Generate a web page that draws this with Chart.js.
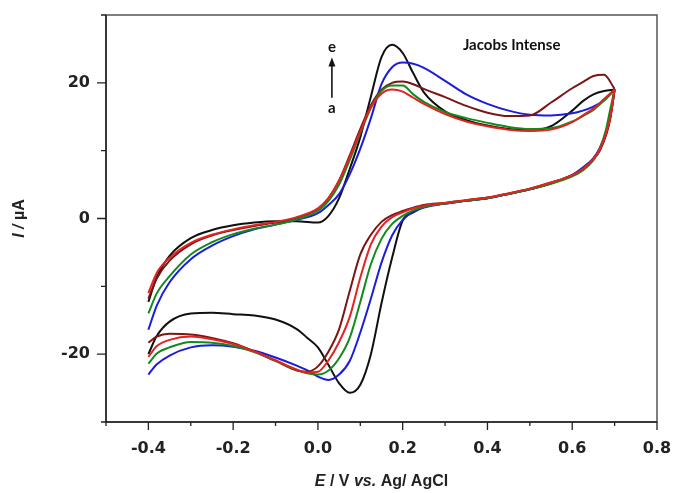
<!DOCTYPE html>
<html>
<head>
<meta charset="utf-8">
<script src="https://cdn.jsdelivr.net/npm/chart.js@4.4.1/dist/chart.umd.min.js"></script>
<style>
  html, body { margin: 0; padding: 0; background: #fff; }
  canvas { display: block; }
</style>
</head>
<body>
<canvas id="cv-chart" width="674" height="493"></canvas>
<script>
// potential grids (V vs Ag/AgCl) for the forward and the reverse sweep
const potentialFwd = [-0.4, -0.38, -0.35, -0.3, -0.25, -0.2, -0.15, -0.1, -0.05, 0, 0.025, 0.05, 0.075, 0.1, 0.125, 0.15, 0.175, 0.2, 0.225, 0.25, 0.3, 0.35, 0.4, 0.45, 0.5, 0.55, 0.6, 0.625, 0.65, 0.675, 0.7];
const potentialRev = [0.7, 0.69, 0.68, 0.665, 0.65, 0.625, 0.6, 0.55, 0.5, 0.45, 0.4, 0.35, 0.3, 0.25, 0.225, 0.2, 0.175, 0.15, 0.125, 0.1, 0.075, 0.05, 0.025, 0, -0.025, -0.05, -0.1, -0.15, -0.2, -0.25, -0.3, -0.35, -0.38, -0.4];

// current (uA)
const blackFwd = [-12.3, -8.6, -5.5, -2.9, -1.7, -1.0, -0.6, -0.4, -0.4, -0.6, 0.4, 3.0, 7.3, 12.0, 18.0, 23.8, 25.6, 24.4, 21.4, 18.6, 15.8, 14.5, 13.7, 13.2, 13.0, 13.6, 15.9, 17.3, 18.3, 18.8, 19.0];
const blackRev = [19.0, 15.0, 12.5, 10.2, 8.8, 7.4, 6.4, 5.2, 4.3, 3.6, 3.0, 2.6, 2.2, 1.7, 0.9, -0.3, -5.8, -12.5, -20.0, -24.5, -25.7, -24.3, -21.6, -19.0, -17.6, -16.3, -14.9, -14.3, -14.1, -13.9, -14.0, -15.2, -17.3, -20.0];
const blueFwd = [-16.4, -12.8, -9.4, -6.0, -4.0, -2.6, -1.6, -0.9, -0.2, 0.8, 2.0, 3.6, 6.5, 10.3, 14.8, 19.8, 22.3, 23.0, 22.8, 22.2, 20.3, 18.3, 16.9, 15.9, 15.3, 15.2, 15.5, 15.9, 16.5, 17.4, 19.0];
const blueRev = [19.0, 15.3, 12.8, 10.4, 8.9, 7.5, 6.4, 5.2, 4.3, 3.6, 3.0, 2.6, 2.2, 1.6, 1.0, -0.2, -2.5, -6.5, -11.8, -16.8, -21.0, -23.0, -23.8, -23.3, -22.4, -21.7, -20.5, -19.5, -18.9, -18.7, -19.0, -20.2, -21.5, -23.0];
const brownFwd = [-11.8, -8.8, -6.2, -3.8, -2.5, -1.7, -1.1, -0.6, 0.1, 1.4, 3.0, 5.6, 9.3, 13.2, 16.7, 19.0, 20.0, 20.2, 19.8, 19.1, 17.9, 16.6, 15.6, 15.1, 15.2, 17.1, 19.2, 20.1, 21.0, 21.2, 19.1];
const brownRev = [19.1, 14.8, 12.3, 10.0, 8.7, 7.3, 6.4, 5.3, 4.4, 3.7, 3.1, 2.7, 2.3, 2.0, 1.6, 1.1, 0.5, -0.5, -2.4, -5.3, -10.7, -16.3, -19.6, -21.8, -22.6, -22.4, -21.0, -19.6, -18.4, -17.6, -17.1, -17.0, -17.4, -18.3];
const greenFwd = [-14.0, -11.0, -8.5, -5.3, -3.5, -2.3, -1.5, -0.9, -0.1, 1.1, 2.6, 5.0, 8.6, 12.6, 16.3, 18.8, 19.6, 19.6, 18.3, 17.2, 15.7, 14.8, 14.1, 13.5, 13.2, 13.3, 14.3, 15.1, 16.0, 17.4, 19.0];
const greenRev = [19.0, 16.2, 13.2, 10.3, 8.6, 7.1, 6.2, 5.1, 4.3, 3.6, 3.0, 2.6, 2.2, 1.7, 1.2, 0.4, -0.8, -3.0, -6.7, -12.3, -17.6, -20.6, -22.4, -23.0, -22.8, -22.3, -21.0, -19.7, -18.8, -18.3, -18.2, -19.0, -19.9, -21.4];
const redFwd = [-11.0, -8.0, -5.8, -3.6, -2.4, -1.6, -1.0, -0.5, 0.2, 1.5, 3.0, 5.6, 9.0, 12.8, 16.4, 18.4, 19.0, 18.7, 17.8, 16.9, 15.4, 14.3, 13.6, 13.1, 12.9, 13.1, 14.2, 15.2, 16.2, 17.6, 19.0];
const redRev = [19.0, 15.0, 12.6, 10.2, 8.8, 7.3, 6.4, 5.3, 4.4, 3.7, 3.1, 2.7, 2.3, 1.9, 1.5, 0.9, 0.2, -1.2, -3.8, -8.7, -14.5, -18.2, -20.9, -22.6, -22.7, -22.3, -20.9, -19.6, -18.5, -17.8, -17.4, -17.9, -18.8, -20.4];

const xTicks = [-0.4, -0.2, 0.0, 0.2, 0.4, 0.6, 0.8];
const yTicks = [-20, 0, 20];

// first one ends up on top
const curves = [
  { color: "#e32222", fwd: redFwd, rev: redRev },
  { color: "#138a1c", fwd: greenFwd, rev: greenRev },
  { color: "#7a1616", fwd: brownFwd, rev: brownRev },
  { color: "#1c1cdc", fwd: blueFwd, rev: blueRev },
  { color: "#101010", fwd: blackFwd, rev: blackRev },
];

const toPoints = (xs, ys) => xs.map((x, i) => ({ x, y: ys[i] }));

let datasets = [];
for (let c of curves) {
  for (let [xs, ys] of [[potentialFwd, c.fwd], [potentialRev, c.rev]]) {
    datasets.push({
      data: toPoints(xs, ys),
      showLine: true,
      borderColor: c.color,
      borderWidth: 2,
      pointRadius: 0,
      cubicInterpolationMode: "monotone",
      fill: false,
    });
  }
}

const tickFont = { family: "DejaVu Sans", weight: "bold", size: 16 };
const isTick = (list, v) => list.some((t) => Math.abs(t - v) < 1e-6);

function drawMixed(ctx, parts, cx, cy) {
  let total = 0;
  for (let p of parts) {
    ctx.font = p[1];
    total += ctx.measureText(p[0]).width;
  }
  let x = cx - total / 2;
  ctx.textAlign = "left";
  ctx.textBaseline = "middle";
  for (let p of parts) {
    ctx.font = p[1];
    ctx.fillText(p[0], x, cy);
    x += ctx.measureText(p[0]).width;
  }
}

const decor = {
  id: "decor",
  afterDraw(chart) {
    const { ctx, chartArea: a, scales } = chart;
    const sx = scales.x, sy = scales.y;
    ctx.save();

    // frame
    ctx.strokeStyle = "#555";
    ctx.lineWidth = 1.5;
    ctx.strokeRect(a.left, a.top, a.right - a.left, a.bottom - a.top);
    ctx.strokeStyle = "#222";
    ctx.beginPath();
    ctx.moveTo(a.left, a.top);
    ctx.lineTo(a.left, a.bottom);
    ctx.lineTo(a.right, a.bottom);
    ctx.stroke();

    // tick marks, outward
    ctx.lineWidth = 1.3;
    ctx.beginPath();
    for (let i = -5; i <= 8; i++) {
      const px = sx.getPixelForValue(i / 10);
      const len = i % 2 === 0 ? 8 : 4;
      ctx.moveTo(px, a.bottom);
      ctx.lineTo(px, a.bottom + len);
    }
    for (let v = -30; v <= 30; v += 10) {
      const py = sy.getPixelForValue(v);
      const len = v % 20 === 0 ? 9 : 5;
      ctx.moveTo(a.left, py);
      ctx.lineTo(a.left - len, py);
    }
    ctx.stroke();

    // axis titles
    ctx.fillStyle = "#222";
    drawMixed(ctx, [
      ["E", "italic bold 16px 'Liberation Sans'"],
      [" / V ", "bold 16px 'Liberation Sans'"],
      ["vs.", "italic bold 16px 'Liberation Sans'"],
      [" Ag/ AgCl", "bold 16px 'Liberation Sans'"],
    ], (a.left + a.right) / 2, 482);

    ctx.save();
    ctx.translate(20, sy.getPixelForValue(0));
    ctx.rotate(-Math.PI / 2);
    drawMixed(ctx, [
      ["I / ", "italic bold 16px 'Liberation Sans'"],
      ["\u00b5A", "bold 16px 'Liberation Sans'"],
    ], 0, 0);
    ctx.restore();

    // a -> e arrow
    const ax = sx.getPixelForValue(0.033);
    const yTop = sy.getPixelForValue(23.6);
    const yBot = sy.getPixelForValue(17.8);
    ctx.strokeStyle = "#111";
    ctx.fillStyle = "#111";
    ctx.lineWidth = 1.6;
    ctx.beginPath();
    ctx.moveTo(ax, yBot);
    ctx.lineTo(ax, yTop + 6);
    ctx.stroke();
    ctx.beginPath();
    ctx.moveTo(ax, yTop - 1);
    ctx.lineTo(ax - 3.5, yTop + 8);
    ctx.lineTo(ax + 3.5, yTop + 8);
    ctx.closePath();
    ctx.fill();

    ctx.font = "bold 15px Lato";
    ctx.textAlign = "center";
    ctx.textBaseline = "middle";
    ctx.fillText("e", ax, sy.getPixelForValue(25.2));
    ctx.fillText("a", ax, sy.getPixelForValue(16.3));

    ctx.textAlign = "left";
    ctx.font = "bold 15px Lato";
    ctx.fillText("Jacobs Intense", sx.getPixelForValue(0.342), sy.getPixelForValue(25.5));

    ctx.restore();
  },
};

new Chart(document.getElementById("cv-chart"), {
  type: "scatter",
  data: { datasets },
  options: {
    responsive: false,
    animation: false,
    layout: { padding: { top: 15, right: 17, left: 0, bottom: 0 } },
    plugins: { legend: { display: false }, tooltip: { enabled: false } },
    scales: {
      x: {
        type: "linear",
        min: -0.5,
        max: 0.8,
        grid: { display: false, drawTicks: false },
        border: { display: false },
        ticks: {
          stepSize: 0.1,
          autoSkip: false,
          maxRotation: 0,
          padding: 17,
          color: "#222",
          font: tickFont,
          callback: (v) => (isTick(xTicks, v) ? (Math.abs(v) < 1e-9 ? 0 : v).toFixed(1) : ""),
        },
        afterFit: (s) => {
          s.height = 71;
          s.paddingLeft = 0;
          s.paddingRight = 0;
        },
      },
      y: {
        type: "linear",
        min: -30,
        max: 30,
        grid: { display: false, drawTicks: false },
        border: { display: false },
        ticks: {
          stepSize: 10,
          autoSkip: false,
          padding: 16,
          color: "#222",
          font: tickFont,
          callback: (v) => (isTick(yTicks, v) ? String(v) : ""),
        },
        afterFit: (s) => {
          s.width = 106;
          s.paddingTop = 0;
          s.paddingBottom = 0;
        },
      },
    },
  },
  plugins: [decor],
});
</script>
</body>
</html>
